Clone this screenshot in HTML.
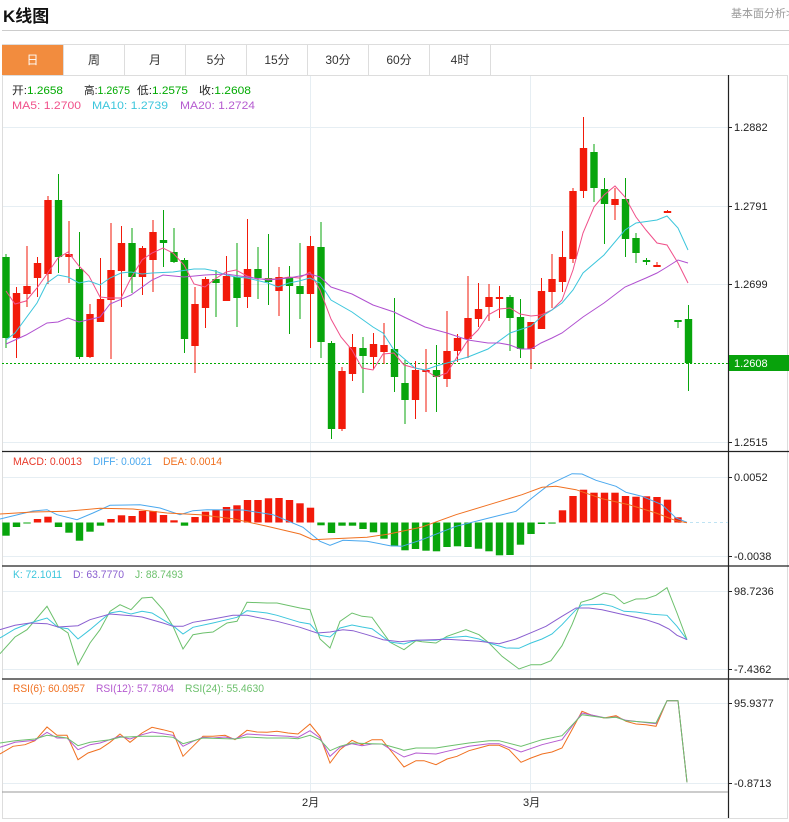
<!DOCTYPE html>
<html><head><meta charset="utf-8"><style>
body{margin:0;width:789px;height:822px;background:#fff;font-family:"Liberation Sans","Noto Sans CJK SC",sans-serif;overflow:hidden;position:relative}
.t{position:absolute;left:3px;top:2px;font-size:17px;font-weight:bold;color:#111}
.r{position:absolute;left:731px;top:5px;font-size:11px;color:#999;white-space:nowrap}
.hl{position:absolute;left:2px;top:30px;width:787px;height:1px;background:#ccc}
.tabs{position:absolute;left:2px;top:44px;width:787px;height:31px;border-top:1px solid #ddd;display:flex}
.tabs div{width:60px;border-right:1px solid #ddd;text-align:center;line-height:31px;font-size:12px;color:#333}
.tabs div.a{background:#f28c3e;color:#fff;width:61px}
svg{position:absolute;left:0;top:0}
</style></head><body>
<div class="t">K线图</div><div class="r">基本面分析&gt;</div><div class="hl"></div>
<div class="tabs"><div class="a">日</div><div>周</div><div>月</div><div>5分</div><div>15分</div><div>30分</div><div>60分</div><div>4时</div><div style="flex:1;border-right:none"></div></div>
<svg id="s" width="789" height="822" style="top:0">
<g stroke="#e6eef3" stroke-width="1">
<line x1="2" y1="127.5" x2="728" y2="127.5"/><line x1="2" y1="206.5" x2="728" y2="206.5"/><line x1="2" y1="284.5" x2="728" y2="284.5"/><line x1="2" y1="442.5" x2="728" y2="442.5"/>
<line x1="2" y1="477.5" x2="728" y2="477.5"/><line x1="2" y1="556.5" x2="728" y2="556.5"/>
<line x1="2" y1="591.5" x2="728" y2="591.5"/><line x1="2" y1="669.5" x2="728" y2="669.5"/>
<line x1="2" y1="703.5" x2="728" y2="703.5"/><line x1="2" y1="783.5" x2="728" y2="783.5"/>
<line x1="310.5" y1="75" x2="310.5" y2="792"/><line x1="530.5" y1="75" x2="530.5" y2="792"/>
</g>
<rect x="2.5" y="75.5" width="785" height="743" fill="none" stroke="#ddd"/>
<g stroke="#222" stroke-width="1.2"><line x1="2" y1="451.5" x2="789" y2="451.5"/><line x1="2" y1="566" x2="789" y2="566"/><line x1="2" y1="679" x2="789" y2="679"/><line x1="728.5" y1="75" x2="728.5" y2="818"/></g>
<line x1="2" y1="792" x2="728" y2="792" stroke="#999"/>
<line x1="2" y1="363.5" x2="728" y2="363.5" stroke="#0a0" stroke-dasharray="2,2"/>
<line x1="678" y1="522.5" x2="728" y2="522.5" stroke="#bfe3f3" stroke-dasharray="3,3"/>
<g id="g"></g>
<g font-size="11" fill="#222" font-family="Liberation Sans,sans-serif">
<g stroke="#222"><line x1="728" y1="127.5" x2="732" y2="127.5"/><line x1="728" y1="206.5" x2="732" y2="206.5"/><line x1="728" y1="284.5" x2="732" y2="284.5"/><line x1="728" y1="442.5" x2="732" y2="442.5"/><line x1="728" y1="477.5" x2="732" y2="477.5"/><line x1="728" y1="556.5" x2="732" y2="556.5"/><line x1="728" y1="591.5" x2="732" y2="591.5"/><line x1="728" y1="669.5" x2="732" y2="669.5"/><line x1="728" y1="703.5" x2="732" y2="703.5"/><line x1="728" y1="783.5" x2="732" y2="783.5"/></g>
<text x="734" y="131">1.2882</text><text x="734" y="210">1.2791</text><text x="734" y="288">1.2699</text><text x="734" y="446">1.2515</text>
<rect x="729" y="355" width="60" height="16" fill="#08a20c"/><text x="734" y="367" fill="#fff">1.2608</text>
<text x="734" y="481">0.0052</text><text x="734" y="560">-0.0038</text>
<text x="734" y="595">98.7236</text><text x="734" y="673">-7.4362</text>
<text x="734" y="707">95.9377</text><text x="734" y="787">-0.8713</text>
<text x="302" y="806" font-family="Liberation Sans,Noto Sans CJK SC,sans-serif">2月</text><text x="523" y="806" font-family="Liberation Sans,Noto Sans CJK SC,sans-serif">3月</text>
</g>
<g font-size="11" font-family="Liberation Sans,Noto Sans CJK SC,sans-serif" lengthAdjust="spacingAndGlyphs">
<text x="12" y="94" fill="#222" textLength="51" lengthAdjust="spacingAndGlyphs">开:<tspan fill="#0a0">1.2658</tspan></text>
<text x="84" y="94" fill="#222" textLength="46" lengthAdjust="spacingAndGlyphs">高:<tspan fill="#0a0">1.2675</tspan></text>
<text x="137" y="94" fill="#222" textLength="51" lengthAdjust="spacingAndGlyphs">低:<tspan fill="#0a0">1.2575</tspan></text>
<text x="199" y="94" fill="#222" textLength="52" lengthAdjust="spacingAndGlyphs">收:<tspan fill="#0a0">1.2608</tspan></text>
<text x="12" y="109" fill="#f0508a" textLength="69" lengthAdjust="spacingAndGlyphs">MA5: 1.2700</text><text x="92" y="109" fill="#3cc6dc" textLength="76" lengthAdjust="spacingAndGlyphs">MA10: 1.2739</text><text x="180" y="109" fill="#b55bd0" textLength="75" lengthAdjust="spacingAndGlyphs">MA20: 1.2724</text>
<text x="13" y="465" fill="#e83a2a" textLength="69" lengthAdjust="spacingAndGlyphs">MACD: 0.0013</text><text x="93" y="465" fill="#4aa8ee" textLength="59" lengthAdjust="spacingAndGlyphs">DIFF: 0.0021</text><text x="163" y="465" fill="#f07020" textLength="59" lengthAdjust="spacingAndGlyphs">DEA: 0.0014</text>
<text x="13" y="578" fill="#3cc6dc" textLength="49" lengthAdjust="spacingAndGlyphs">K: 72.1011</text><text x="73" y="578" fill="#8a5fd0" textLength="51" lengthAdjust="spacingAndGlyphs">D: 63.7770</text><text x="135" y="578" fill="#6cc06c" textLength="48" lengthAdjust="spacingAndGlyphs">J: 88.7493</text>
<text x="13" y="692" fill="#f07020" textLength="72" lengthAdjust="spacingAndGlyphs">RSI(6): 60.0957</text><text x="96" y="692" fill="#b55bd0" textLength="78" lengthAdjust="spacingAndGlyphs">RSI(12): 57.7804</text><text x="185" y="692" fill="#6cc06c" textLength="79" lengthAdjust="spacingAndGlyphs">RSI(24): 55.4630</text>
</g>
</svg>
<script>
var g=document.getElementById('g'),h='';
var R='#f21a0a',G='#08a50c';
var C=[[0,257,338,254,348],[1,293,338,287,358,1],[2,286,294,246,307,1],[3,263,278,257,297,1],[4,200,274,196,284,1],[5,200,257,174,273],[6,254,257,221,283,1],[7,269,357,232,359],[8,314,357,304,358,1],[9,299,322,258,322,1],[10,270,300,223,359,1],[11,243,271,226,307,1],[12,243,277,228,293],[13,248,277,246,295,1],[14,232,260,220,292,1],[15,240,243,210,267],[16,252,262,228,263],[17,260,339,258,353],[18,304,346,287,373,1],[19,279,308,277,328,1],[20,279,283,270,317],[21,276,301,256,301,1],[22,277,298,243,327],[23,269,297,219,308,1],[24,269,278,247,299],[25,278,282,234,305],[26,277,291,267,316,1],[27,277,286,266,334],[28,286,294,243,319],[29,246,294,236,348,1],[30,247,342,222,358],[31,343,429,341,439],[32,371,429,367,431,1],[33,347,374,334,381,1],[34,348,356,337,393],[35,344,357,333,369,1],[36,345,352,323,364,1],[37,349,377,298,392],[38,383,400,360,424],[39,370,400,361,419,1],[40,370,372,349,412,1],[41,370,377,345,412],[42,351,379,311,387,1],[43,338,351,334,362,1],[44,318,339,276,358,1],[45,309,319,283,327,1],[46,297,307,284,321,1],[47,297,299,286,318,1],[48,297,318,295,351],[49,317,349,299,358],[50,322,349,322,369,1],[51,291,329,278,329,1],[52,279,292,254,308,1],[53,257,282,231,292,1],[54,191,259,188,263,1],[55,148,191,117,198,1],[56,152,188,144,202],[57,189,204,178,244],[58,199,205,188,220,1],[59,199,239,178,257],[60,238,253,233,263],[61,260,262,258,265],[62,265,267,262,267,1],[63,211,213,210,213,1],[64,320,322,320,328],[65,319,363,305,391]];
C.forEach(function(c){var x=6+c[0]*10.5,col=c[5]?R:G;h+='<line x1="'+x+'" x2="'+x+'" y1="'+c[3]+'" y2="'+c[4]+'" stroke="'+col+'" stroke-width="1"/>';h+='<rect x="'+(x-3.7)+'" y="'+c[1]+'" width="7.4" height="'+Math.max(1.5,c[2]-c[1])+'" fill="'+col+'"/>';});
function P(pts,col,w){h+='<polyline fill="none" stroke="'+col+'" stroke-width="'+(w||1)+'" points="'+pts+'"/>';}
P("6,291 15,304 26,301 37,288 47,274 58,258 68,252 79,266 89,276 100,297 110,298 121,298 131,278 142,260 152,253 163,248 173,253 184,265 194,284 205,287 215,279 226,272 236,270 247,276 257,279 268,279 278,279 289,277 299,278 310,272 320,290 331,319 341,337 352,350 362,368 373,370 383,354 394,353 404,365 415,368 425,370 436,377 447,373 457,357 468,340 478,330 488,315 499,309 510,308 520,314 531,316 541,315 552,310 562,300 573,270 583,233 594,207 604,195 615,186 625,197 636,217 646,230 657,243 667,245 678,263 688,283","#f0508a");
P("6,340 15,333 37,303 47,283 58,275 68,277 79,283 89,281 100,285 110,278 121,273 131,272 142,274 152,273 173,272 194,269 205,269 215,271 226,275 236,277 247,278 268,283 278,287 289,283 299,281 310,278 320,283 331,300 352,312 373,327 383,333 394,350 415,368 425,370 436,366 447,363 468,357 488,349 510,333 531,326 541,317 552,310 562,303 573,290 583,273 604,255 625,230 636,223 657,220 667,216 678,228 688,250","#3cc6dc");
P("6,344 26,335 47,323 58,322 68,318 79,322 100,317 110,304 131,295 152,280 163,275 184,277 205,275 226,274 247,277 268,280 289,278 310,274 320,277 331,287 352,294 373,305 394,312 404,317 425,327 447,333 468,340 488,343 499,343 510,345 520,349 531,349 541,343 552,338 562,333 583,317 604,303 625,287 646,278 657,273 667,267 678,260 688,263","#b050d0");
var M=[535.7,527,523.5,519,516.7,527,532.7,540.7,531.7,525.7,519,515.3,516,511,511,515,520.3,525.7,517,511.7,509.7,507,505.3,500,500,498.3,498,500,503.3,507.7,525.3,533,525.7,525.7,529,532.3,538.7,546.3,550.3,549,550.7,551.3,547,546.3,547,548.7,551.3,555.3,555,544.7,534,524,523.6,510.3,496,489.7,492.7,492.7,492.7,496,496.7,496.3,497,499.7,517.3];
M.forEach(function(v,i){var x=6+i*10.5,z=522.5;var up=v<z;h+='<rect x="'+(x-3.7)+'" y="'+Math.min(v,z)+'" width="7.4" height="'+Math.max(1,Math.abs(v-z))+'" fill="'+(up?R:G)+'"/>';});
P("0,519 33,511 47,509.7 57,514.7 77,519.7 93,513 110,505.3 140,504.7 160,508 180,514.7 193,510.7 207,509.7 243,510 273,514.7 303,527.3 320,541.3 330,545.3 343,540.3 367,541.3 390,545.7 402,546.3 422,539.7 456,526.3 489,518 516,511.3 532,498 549,484.7 572,473.7 582,474 596,480.3 616,486.3 626,492.3 642,496.3 662,504.7 676,518 687,522.3","#4aa8ee");
P("0,514 33,512 67,511.3 100,508.3 133,509 167,513 200,514.7 233,518.7 267,526.3 300,534 313,539.7 333,538.7 367,537.3 389,534 422,527 456,514.7 489,504.7 522,494.7 542,487.3 556,486.3 576,489.7 602,498.7 629,504.7 656,513 676,520.7 687,522.7","#f07020");
P("0,653.7 15,637 27,629.7 47,606.3 58,626.3 68,633 78,664.7 90,643 100,629.7 110,611.3 120,604.7 131,609.7 142,598 152,597.3 163,609.7 173,626.3 183,649 193,634.7 203,633 213,632 227,623 237,621.3 247,602.3 267,603 277,603 300,608 310,609.7 320,639 330,648 340,621.3 352,613 362,616.3 372,617.3 390,642.3 404,649.7 416,640.7 422,641.7 436,643 447,636.3 466,629.7 479,634.7 489,643 502,656.3 519,669 531,664.7 541,664.7 551,660.7 562,645.7 572,624.7 581,602.3 592,599 604,593 614,595.3 624,603.7 636,599 646,598.7 656,595.3 667,587.7 677,613 687,639.7","#6cc06c");
P("0,638 15,629 30,623 47,618 58,627.3 68,628.7 78,639 90,629.7 100,621.3 110,613 120,611.3 131,614 142,611.3 152,613 163,619.7 173,625.7 183,634 193,627.3 213,623 227,619.7 237,617.3 247,610.7 267,613 277,615.3 300,622.3 310,624 320,635.3 330,637 340,628 352,625 362,627 372,628.7 390,642 404,644 416,640.3 436,640.3 447,637.7 466,636.3 479,639 489,643 506,648 519,648.3 531,643 542,639 552,634 562,624.7 576,609.7 582,605 602,604.3 612,606.3 624,611.3 636,612 652,614.3 667,615.3 677,626.3 687,639.7","#3cc6dc");
P("0,629.7 15,625.3 30,623 47,623.7 58,627 78,625.7 90,619.7 110,614 131,615.7 142,617 163,623 173,626.3 183,626.3 193,622.3 213,619 233,615.3 247,615.3 277,621.3 300,627.3 317,633 330,632 343,629.7 353,630.7 367,634.7 383,639.7 400,641.7 416,640.3 447,639.3 479,641.3 499,643.7 516,639 532,632.3 546,626.3 562,616.3 576,608 589,608 602,609.7 624,614.7 646,619.7 659,624 669,629 677,635.3 687,639.7","#8a5fd0");
P("0,754 13,746.3 25,744.7 35,740.7 47,727 57,735.3 67,735.3 78,759.7 88,753 100,749 110,742.3 120,734 130,742.3 142,733 152,727.3 163,729.7 173,732.3 183,756.3 193,746.3 203,736.3 213,736.3 225,735.3 235,739.7 247,730.3 257,732 267,732.3 277,731.3 288,733 298,734 310,724 320,736.3 330,763 340,749.7 352,740.3 362,744.7 372,739.7 382,739.7 390,749.7 404,767 416,760.7 424,760.7 436,764.7 447,759 457,756.3 469,750.7 479,748 489,745.3 499,745.3 509,749.7 521,762.3 531,758 542,754 552,752 562,748 572,729.7 582,711.3 592,715.3 604,718 616,715.7 626,721.3 636,724 646,724.7 656,726.3 667,700.7 678,700.7 687,782.3","#f07020");
P("0,747.3 15,742.3 35,740.3 47,732.3 57,738 67,738 78,749.7 90,744.7 100,743 120,736.3 130,739 142,734.7 152,732 163,733.7 173,735.3 183,746.3 193,741.3 203,737.3 213,738 225,737 235,739 247,734 267,735.3 288,736.3 298,737.3 310,730.7 320,738 330,756.3 340,747.3 352,743.7 362,745.7 372,744 382,744 390,749 404,757 416,753 436,754 447,751.3 469,746.3 489,743.7 499,743.7 521,752 542,744.7 562,739.7 582,713 606,718 616,717 626,720.3 656,723.7 667,700.7 678,700.7 687,782.3","#b55bd0");
P("0,743 15,740.7 35,739 47,735.3 67,738 78,745.7 90,742.3 110,739.7 120,737.3 142,736.3 163,736.3 173,737.3 183,743.7 203,738 235,739 247,737 267,738 288,738 298,738.7 310,735.3 320,739.7 330,750.7 340,746.3 352,743 372,743.7 382,744 400,749 404,750.3 416,748 436,748 447,746.3 469,743 489,740.7 499,740.7 521,746.3 542,739.7 562,735.7 582,714.7 606,718 616,717.3 626,720.7 656,723 667,700.7 678,700.7 687,782.3","#6cc06c");
g.innerHTML=h;
</script>
</body></html>
